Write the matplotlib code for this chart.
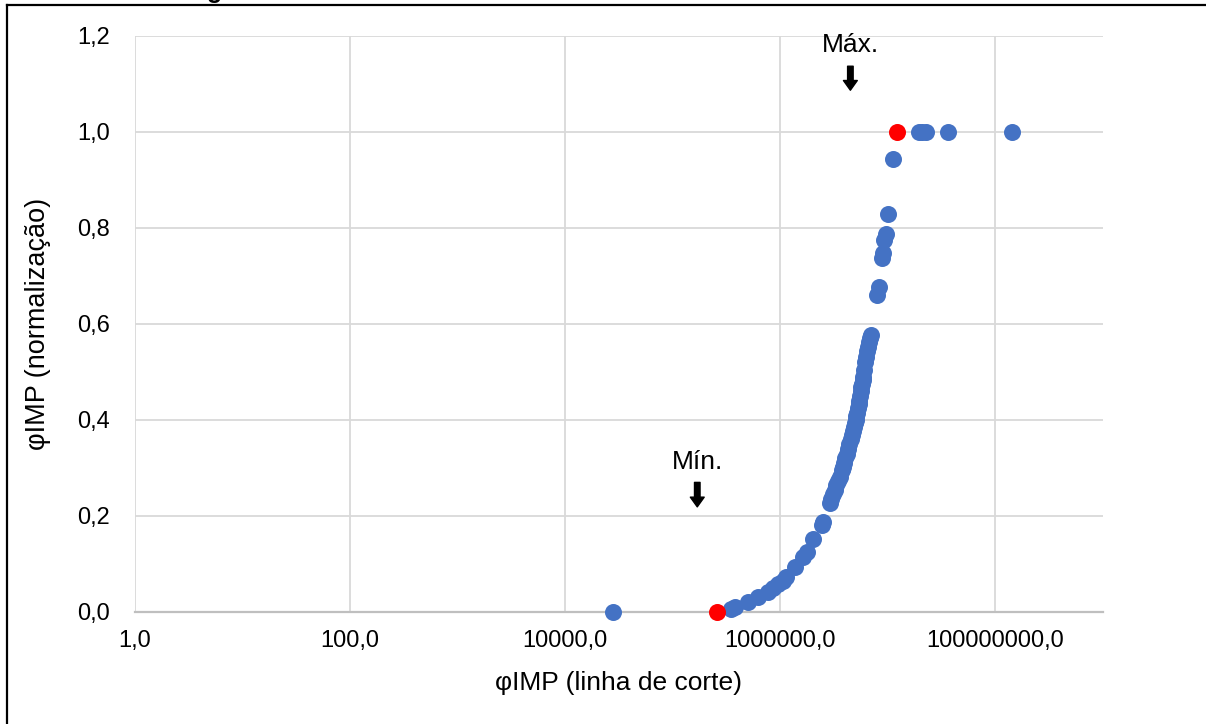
import matplotlib
matplotlib.use('Agg')
from matplotlib import pyplot as plt
from matplotlib.lines import Line2D
import numpy as np

plt.rcParams['font.family'] = ['Liberation Sans', 'DejaVu Sans']

# pontos de corte (eixo x) e valores normalizados (eixo y)
phi_corte = [2.8e4, 3.5e5, 3.8e5, 5.0e5, 6.2e5, 7.6e5, 8.6e5, 9.6e5, 1.05e6, 1.14e6,
             1.38e6, 1.64e6, 1.78e6, 2.03e6, 2.46e6, 2.52e6,
             2.92e6, 2.98e6, 3.11e6, 3.25e6, 3.32e6, 3.47e6, 3.55e6, 3.78e6, 3.86e6, 3.95e6,
             4.03e6, 4.20e6, 4.29e6, 4.39e6, 4.58e6, 4.68e6, 4.78e6, 4.89e6, 4.99e6, 5.05e6,
             5.10e6, 5.21e6, 5.32e6, 5.38e6, 5.43e6, 5.55e6, 5.61e6, 5.67e6, 5.79e6, 5.85e6,
             5.92e6, 6.04e6, 6.17e6, 6.31e6, 6.45e6, 6.59e6, 6.73e6, 6.87e6, 7.03e6,
             7.98e6, 8.34e6, 8.89e6, 9.08e6, 9.28e6, 9.69e6, 1.01e7, 1.125e7,
             1.96e7, 2.09e7, 2.28e7, 3.66e7, 1.44e8]
phi_norm = [0.0, 0.006, 0.010, 0.021, 0.031, 0.042, 0.050, 0.058, 0.065, 0.072,
            0.094, 0.115, 0.125, 0.152, 0.181, 0.188,
            0.227, 0.235, 0.245, 0.255, 0.265, 0.272, 0.282, 0.295, 0.303, 0.310,
            0.320, 0.330, 0.340, 0.350, 0.360, 0.368, 0.377, 0.385, 0.393, 0.400,
            0.408, 0.415, 0.425, 0.433, 0.440, 0.450, 0.460, 0.468, 0.476, 0.483,
            0.490, 0.505, 0.520, 0.532, 0.543, 0.552, 0.562, 0.571, 0.578,
            0.660, 0.677, 0.737, 0.748, 0.775, 0.7875, 0.829, 0.944,
            1.0, 1.0, 1.0, 1.0, 1.0]

# limites escolhidos (mínimo e máximo)
lim_corte = [2.59e5, 1.225e7]
lim_norm = [0.0, 1.0]

x_ticks = [1, 1e2, 1e4, 1e6, 1e8]
x_ticklabels = ['1,0', '100,0', '10000,0', '1000000,0', '100000000,0']
y_ticks = [0.0, 0.2, 0.4, 0.6, 0.8, 1.0, 1.2]
y_ticklabels = ['0,0', '0,2', '0,4', '0,6', '0,8', '1,0', '1,2']

fig = plt.figure(figsize=(12.06, 7.24), dpi=100)
ax = fig.add_axes([0.1119, 0.1547, 0.8027, 0.7956])

ax.scatter(phi_corte, phi_norm, s=150, color='#4472C4', zorder=3, linewidths=0, clip_on=False)
ax.scatter(lim_corte, lim_norm, s=150, color='#FF0000', zorder=4, linewidths=0, clip_on=False)

ax.set_xscale('log')
ax.set_xlim(1, 1e9)
ax.set_ylim(0, 1.2)
ax.set_xticks(x_ticks)
ax.set_xticklabels(x_ticklabels)
ax.set_yticks(y_ticks)
ax.set_yticklabels(y_ticklabels)
ax.xaxis.set_minor_locator(matplotlib.ticker.NullLocator())
ax.tick_params(length=0, labelsize=17)
ax.tick_params(axis='x', pad=13)
ax.tick_params(axis='y', pad=18)

ax.grid(True, color='#D9D9D9', linewidth=1.3, zorder=0)
ax.set_axisbelow(True)
for s in ['top', 'right', 'left']:
    ax.spines[s].set_visible(False)
ax.spines['bottom'].set_color('#BFBFBF')
ax.spines['bottom'].set_linewidth(1.6)

ax.set_xlabel('φIMP (linha de corte)', fontsize=19)
ax.set_ylabel('φIMP (normalização)', fontsize=19.5)
ax.xaxis.set_label_coords(0.5, -0.123)
ax.xaxis.label.set_va('center')
ax.yaxis.set_label_coords(-0.1005, 0.5)
ax.yaxis.label.set_va('center')

# setas de mínimo e máximo
seta = dict(arrowstyle='simple,head_width=1.0,head_length=0.7,tail_width=0.4',
            color='black', shrinkA=0, shrinkB=0)
ax.annotate('', xy=(4.48e6, 1.087), xytext=(4.48e6, 1.137), arrowprops=seta)
ax.text(4.48e6, 1.181, 'Máx.', ha='center', va='center', fontsize=19)
ax.annotate('', xy=(1.69e5, 0.219), xytext=(1.69e5, 0.270), arrowprops=seta)
ax.text(1.69e5, 0.3125, 'Mín.', ha='center', va='center', fontsize=19)

# moldura da figura
fig.add_artist(Line2D([0.0058, 1.0], [0.9931, 0.9931], color='black', linewidth=1.6))
fig.add_artist(Line2D([0.0058, 0.0058], [0.0, 0.9931], color='black', linewidth=1.6))
fig.text(0.145, 1.003, 'Regra de Modelo', fontsize=18, fontweight='bold',
         ha='left', va='baseline')

fig.savefig('out.png', dpi=100)
